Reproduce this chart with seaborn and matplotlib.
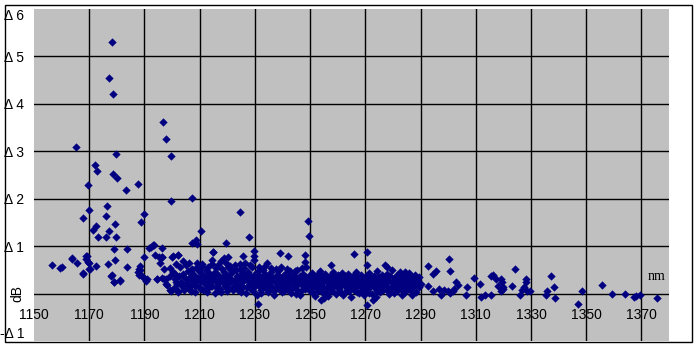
import matplotlib
matplotlib.use("Agg")
import matplotlib.pyplot as plt
from matplotlib.patches import Rectangle
import seaborn as sns
import pandas as pd

# ---- data (wavelength nm, loss dB) ----
wl_sparse = [1156.6, 1159.5, 1160.0, 1163.6, 1163.9, 1165.7, 1165.2, 1167.7, 1167.7, 1167.8, 1168.8, 1169.0,
             1169.3, 1169.5, 1169.6, 1169.9, 1170.0, 1170.0, 1170.2, 1171.4, 1172.0, 1172.4, 1172.4, 1172.8,
             1173.2, 1176.0, 1176.0, 1176.4, 1176.9, 1177.1, 1177.2, 1177.8, 1178.1, 1178.2, 1178.6, 1178.6,
             1178.9, 1178.9, 1179.0, 1179.2, 1179.4, 1179.6, 1179.6, 1179.9, 1181.1, 1181.2, 1183.5, 1183.7,
             1183.7, 1187.5, 1187.8, 1188.0, 1188.2, 1188.3, 1188.5, 1188.9, 1189.0, 1189.7, 1189.7, 1190.0,
             1190.5, 1191.0, 1191.8, 1192.3, 1193.1, 1193.5, 1193.7, 1194.4, 1194.7, 1195.2, 1195.6, 1196.2,
             1196.2, 1196.3, 1196.5, 1196.6, 1197.0, 1197.0, 1197.7, 1197.7, 1197.8, 1198.0, 1199.2, 1199.2,
             1199.2, 1199.5, 1199.8, 1199.8, 1199.9, 1200.4, 1200.9, 1201.6, 1202.2, 1202.2, 1202.2, 1204.0,
             1206.2, 1207.0, 1207.1, 1207.4, 1208.8, 1208.8, 1209.2, 1210.4, 1214.8, 1215.0, 1218.8, 1219.7,
             1220.2, 1224.7, 1225.7, 1228.0, 1229.8, 1229.8, 1229.8, 1231.3, 1234.5, 1239.2, 1242.1, 1248.1,
             1248.1, 1249.3, 1249.7, 1254.0, 1255.0, 1257.7, 1265.9, 1270.7, 1270.7, 1270.7, 1272.7, 1273.9,
             1277.1, 1277.9, 1283.3, 1284.4, 1286.8, 1288.6, 1289.6, 1289.6, 1290.2, 1292.7, 1292.8, 1294.4,
             1294.4, 1295.6, 1296.8, 1297.4, 1298.6, 1299.8, 1300.4, 1300.6, 1300.8, 1301.6, 1302.2, 1303.0,
             1303.4, 1306.5, 1306.8, 1309.5, 1311.4, 1311.9, 1313.3, 1315.5, 1315.5, 1316.1, 1317.5, 1318.2,
             1319.0, 1319.1, 1319.5, 1319.7, 1319.7, 1323.1, 1324.3, 1326.1, 1326.9, 1327.5, 1328.1, 1328.1,
             1328.5, 1329.6, 1335.4, 1335.9, 1337.2, 1338.4, 1338.6, 1347.0, 1348.6, 1355.6, 1359.5, 1364.0,
             1367.2, 1368.1, 1369.6, 1375.6]
db_sparse = [0.61, 0.54, 0.56, 0.74, 0.73, 0.65, 3.09, 1.60, 0.42, 0.43, 0.73, 0.79,
             0.80, 2.29, 0.67, 1.77, 0.64, 0.51, 0.52, 1.35, 2.71, 1.42, 0.59, 2.59,
             1.20, 1.63, 1.20, 1.85, 0.63, 4.55, 1.31, 0.37, 0.39, 5.30, 4.21, 2.52,
             0.94, 0.25, 0.25, 1.47, 0.70, 2.94, 1.20, 2.44, 0.28, 0.27, 2.18, 0.94,
             0.56, 2.31, 0.46, 0.52, 0.40, 0.49, 0.58, 1.51, 0.36, 1.68, 0.78, 0.33,
             0.27, 0.30, 0.97, 0.98, 1.03, 1.02, 0.81, 0.31, 0.30, 0.77, 0.64, 0.96,
             0.32, 0.77, 0.78, 3.62, 0.52, 0.30, 3.26, 0.31, 0.21, 0.18, 0.54, 0.36,
             0.08, 2.90, 1.95, 0.06, 0.77, 0.79, 0.42, 0.25, 0.82, 0.81, 0.03, 0.69,
             0.64, 0.50, 1.06, 2.01, 1.14, 0.53, 1.05, 1.32, 0.88, 0.87, 0.74, 1.06,
             0.78, 1.73, 0.79, 1.19, 0.89, 0.80, 0.71, -0.23, 0.64, 0.85, 0.79, 0.82,
             0.66, 1.54, 1.21, -0.13, -0.09, 0.60, 0.83, 0.87, 0.60, -0.25, -0.13, -0.08,
             0.61, 0.56, -0.02, 0.46, -0.03, 0.27, 0.34, 0.13, 0.21, 0.15, 0.58, 0.42,
             0.06, 0.47, 0.10, -0.04, 0.08, 0.06, 0.73, 0.47, 0.02, 0.06, 0.10, 0.24,
             0.19, -0.02, 0.13, 0.33, 0.21, -0.08, -0.02, -0.02, 0.36, 0.40, 0.30, 0.17,
             0.05, 0.30, 0.24, 0.10, 0.13, 0.17, 0.51, -0.04, 0.08, 0.13, 0.31, 0.24,
             0.06, 0.05, -0.04, 0.06, 0.38, 0.13, -0.09, -0.21, 0.05, 0.19, -0.01, 0.00,
             -0.08, -0.06, -0.02, -0.09]

wl_dense = [1200.5, 1200.8, 1201.2, 1201.5, 1201.9, 1202.3, 1202.6, 1203.0, 1203.3, 1203.7, 1204.1, 1204.4,
            1204.8, 1205.1, 1205.5, 1205.9, 1206.2, 1206.6, 1207.0, 1207.3, 1207.7, 1208.1, 1208.4, 1208.8,
            1209.1, 1209.5, 1209.9, 1210.2, 1210.6, 1211.0, 1211.3, 1211.7, 1212.1, 1212.4, 1212.8, 1213.2,
            1213.5, 1213.9, 1214.3, 1214.6, 1215.0, 1215.4, 1215.7, 1216.1, 1216.5, 1216.8, 1217.2, 1217.6,
            1217.9, 1218.3, 1218.7, 1219.0, 1219.4, 1219.8, 1220.1, 1220.5, 1220.9, 1221.2, 1221.6, 1222.0,
            1222.3, 1222.7, 1223.1, 1223.4, 1223.8, 1224.2, 1224.5, 1224.9, 1225.3, 1225.6, 1226.0, 1226.4,
            1226.7, 1227.1, 1227.5, 1227.8, 1228.2, 1228.6, 1228.9, 1229.3, 1229.7, 1230.0, 1230.4, 1230.8,
            1231.1, 1231.5, 1231.9, 1232.2, 1232.6, 1233.0, 1233.3, 1233.7, 1234.1, 1234.4, 1234.8, 1235.2,
            1235.5, 1235.9, 1236.3, 1236.6, 1237.0, 1237.4, 1237.7, 1238.1, 1238.5, 1238.8, 1239.2, 1239.6,
            1239.9, 1240.3, 1240.7, 1241.0, 1241.4, 1241.8, 1242.1, 1242.5, 1242.9, 1243.2, 1243.6, 1244.0,
            1244.3, 1244.7, 1245.1, 1245.4, 1245.8, 1246.2, 1246.5, 1246.9, 1247.3, 1247.6, 1248.0, 1248.4,
            1248.7, 1249.1, 1249.5, 1249.8, 1250.2, 1250.6, 1250.9, 1251.3, 1251.7, 1252.0, 1252.4, 1252.8,
            1253.1, 1253.5, 1253.9, 1254.2, 1254.6, 1255.0, 1255.3, 1255.7, 1256.1, 1256.4, 1256.8, 1257.2,
            1257.5, 1257.9, 1258.3, 1258.6, 1259.0, 1259.4, 1259.7, 1260.1, 1260.5, 1260.8, 1261.2, 1261.6,
            1261.9, 1262.3, 1262.7, 1263.0, 1263.4, 1263.8, 1264.1, 1264.5, 1264.9, 1265.2, 1265.6, 1266.0,
            1266.3, 1266.7, 1267.1, 1267.4, 1267.8, 1268.2, 1268.5, 1268.9, 1269.3, 1269.6, 1270.0, 1270.4,
            1270.7, 1271.1, 1271.5, 1271.8, 1272.2, 1272.6, 1272.9, 1273.3, 1273.7, 1274.0, 1274.4, 1274.8,
            1275.1, 1275.5, 1275.9, 1276.2, 1276.6, 1277.0, 1277.3, 1277.7, 1278.1, 1278.4, 1278.8, 1279.2,
            1279.5, 1279.9, 1280.3, 1280.6, 1281.0, 1281.4, 1281.7, 1282.1, 1282.5, 1282.8, 1283.2, 1283.6,
            1283.9, 1284.3, 1284.7, 1285.0, 1285.4, 1285.8, 1286.1, 1286.5, 1286.9, 1287.2, 1287.6, 1288.0,
            1288.3, 1288.7, 1289.1]
db_dense = [0.45, 0.12, 0.30, 0.62, 0.20, 0.05, 0.38, 0.55, 0.25, 0.15, 0.42, 0.08,
            0.33, 0.60, 0.22, 0.48, 0.10, 0.35, 0.18, 0.52, 0.28, 0.40, 0.04, 0.24,
            0.65, 0.32, 0.14, 0.46, 0.26, 0.58, 0.07, 0.36, 0.20, 0.50, 0.30, 0.12,
            0.44, 0.24, 0.62, 0.16, 0.38, 0.02, 0.28, 0.54, 0.20, 0.40, 0.10, 0.33,
            0.68, 0.25, 0.45, 0.15, 0.36, 0.05, 0.56, 0.22, 0.42, 0.30, 0.12, 0.48,
            0.26, 0.60, 0.18, 0.38, 0.08, 0.32, 0.52, 0.22, 0.44, 0.14, 0.34, 0.64,
            0.02, 0.28, 0.46, 0.18, 0.38, 0.10, 0.55, 0.26, 0.40, 0.15, 0.32, -0.02,
            0.48, 0.22, 0.36, 0.08, 0.28, 0.50, 0.18, 0.42, 0.12, 0.30, 0.04, 0.38,
            0.24, 0.46, 0.14, 0.33, -0.03, 0.26, 0.52, 0.20, 0.40, 0.10, 0.30, 0.56,
            0.16, 0.36, 0.06, 0.25, 0.44, 0.12, 0.34, 0.22, 0.48, 0.02, 0.28, 0.40,
            0.15, 0.32, 0.08, 0.50, 0.24, 0.36, -0.04, 0.18, 0.42, 0.28, 0.10, 0.34,
            0.55, 0.20, 0.38, 0.05, 0.26, 0.44, 0.14, 0.32, -0.06, 0.22, 0.40, 0.10,
            0.30, 0.48, 0.18, 0.36, 0.02, 0.26, 0.42, 0.12, 0.33, -0.05, 0.20, 0.38,
            0.08, 0.28, 0.46, 0.15, 0.34, 0.00, 0.24, 0.40, 0.10, 0.30, 0.18, 0.44,
            -0.03, 0.26, 0.36, 0.06, 0.22, 0.42, 0.14, 0.32, -0.08, 0.20, 0.38, 0.08,
            0.28, 0.46, 0.16, 0.34, 0.02, 0.24, 0.40, 0.12, 0.30, -0.04, 0.20, 0.36,
            0.08, 0.26, 0.44, 0.14, 0.32, 0.00, 0.22, 0.38, 0.10, 0.28, 0.48, 0.16,
            0.34, 0.04, 0.24, 0.40, 0.12, 0.30, 0.18, 0.42, 0.06, 0.26, 0.36, 0.14,
            0.50, 0.22, 0.02, 0.32, 0.18, 0.40, 0.10, 0.28, 0.46, 0.15, 0.34, 0.05,
            0.24, 0.38, 0.12, 0.30, 0.20, 0.44, 0.08, 0.26, 0.35, 0.14, 0.22, 0.40,
            0.04, 0.30, 0.18]

wl_core = [1205.3, 1206.0, 1206.8, 1207.5, 1208.2, 1209.0, 1209.7, 1210.4, 1211.2, 1211.9, 1212.6, 1213.3,
           1214.0, 1214.8, 1215.6, 1216.3, 1217.0, 1217.8, 1218.5, 1219.2, 1220.0, 1220.7, 1221.4, 1222.2,
           1222.9, 1223.6, 1224.4, 1225.1, 1225.8, 1226.6, 1227.3, 1228.0, 1228.8, 1229.5, 1230.2, 1231.0,
           1231.7, 1232.4, 1233.2, 1233.9, 1234.6, 1235.4, 1236.1, 1236.8, 1237.6, 1238.3, 1239.0, 1239.8,
           1240.5, 1241.2, 1242.0, 1242.7, 1243.4, 1244.2, 1244.9, 1245.6, 1246.4, 1247.1, 1247.8, 1248.6,
           1249.3, 1250.0, 1250.8, 1251.5, 1252.2, 1253.0, 1253.7, 1254.4, 1255.2, 1255.9, 1256.6, 1257.4,
           1258.1, 1258.8, 1259.6, 1260.3, 1261.0, 1261.8, 1262.5, 1263.2, 1264.0, 1264.7, 1265.4, 1266.2,
           1266.9, 1267.6, 1268.4, 1269.1, 1269.8, 1270.6, 1271.3, 1272.0, 1272.8, 1273.5, 1274.2, 1275.0,
           1275.7, 1276.4, 1277.2, 1277.9, 1278.6, 1279.4, 1280.1, 1280.8, 1281.6, 1282.3, 1283.0, 1283.8,
           1284.5, 1285.2,
           1210.8, 1212.9, 1214.5, 1216.6, 1218.0, 1219.5, 1221.0, 1223.0, 1224.6, 1226.2, 1228.4, 1231.4,
           1233.6, 1236.0, 1238.8, 1241.6, 1244.5, 1247.0]
db_core = [0.18, 0.30, 0.06, 0.40, 0.15, 0.28, 0.50, 0.10, 0.34, 0.22, 0.04, 0.38,
           0.16, 0.28, 0.46, 0.12, 0.24, 0.04, 0.34, 0.26, 0.12, 0.32, 0.50, 0.08,
           0.22, 0.30, 0.12, 0.04, 0.26, 0.40, 0.14, 0.30, 0.20, 0.06, 0.24, 0.36,
           0.14, 0.02, 0.26, 0.34, 0.20, 0.10, 0.28, 0.06, 0.36, 0.14, 0.24, 0.04,
           0.30, 0.18, 0.08, 0.36, 0.12, 0.26, 0.00, 0.20, 0.30, 0.08, 0.16, 0.26,
           0.12, 0.34, 0.04, 0.18, 0.28, 0.06, 0.24, 0.14, 0.32, 0.02, 0.26, 0.16,
           0.06, 0.22, 0.30, 0.14, 0.04, 0.24, 0.16, 0.30, 0.06, 0.22, 0.12, 0.34,
           0.04, 0.20, 0.28, 0.08, 0.16, 0.30, 0.02, 0.18, 0.24, 0.14, 0.06, 0.20,
           0.30, 0.08, 0.16, 0.24, 0.00, 0.12, 0.26, 0.16, 0.06, 0.20, 0.28, 0.14,
           0.04, 0.18,
           0.62, 0.56, 0.70, 0.60, 0.52, 0.64, 0.58, 0.50, 0.62, 0.54, 0.60, 0.56,
           0.58, 0.54, 0.50, 0.52, 0.48, 0.54]

x_ticks = [1150, 1170, 1190, 1210, 1230, 1250, 1270, 1290, 1310, 1330, 1350, 1370]
y_ticks = [-1, 0, 1, 2, 3, 4, 5, 6]
y_tick_labels = ["-\u0394 1", "dB", "\u0394 1", "\u0394 2", "\u0394 3", "\u0394 4", "\u0394 5", "\u0394 6"]

df = pd.DataFrame({"wl": wl_sparse + wl_dense + wl_core,
                   "db": db_sparse + db_dense + db_core})

W, H = 696, 349
fig = plt.figure(figsize=(W / 100, H / 100), dpi=100)
fig.patch.set_facecolor("white")
ax = fig.add_axes([34 / W, 1 - 341 / H, (669 - 34) / W, (341 - 9) / H])
ax.set_facecolor("#C0C0C0")

sns.scatterplot(data=df, x="wl", y="db", marker="D", color="#000080", s=18,
                linewidth=0, ax=ax, zorder=3, legend=False)

ax.set_xlim(1150, 1380)
ax.set_ylim(-1, 6)
for s in ax.spines.values():
    s.set_visible(False)

# grid lines
for xv in x_ticks[1:]:
    ax.axvline(xv, color="black", lw=1.0, zorder=1)
for yv in y_ticks[1:-1]:
    ax.axhline(yv, color="black", lw=1.0, zorder=1)

ax.set_xticks(x_ticks)
ax.set_xticklabels([str(v) for v in x_ticks], fontsize=10, family="Liberation Sans")
ax.tick_params(axis="x", length=0, pad=-24)
ax.set_yticks(y_ticks)
ax.set_yticklabels(y_tick_labels, fontsize=10, family="Liberation Sans")
ax.tick_params(axis="y", length=0, pad=7)
ylabels = ax.get_yticklabels()
ylabels[0].set_va("bottom")
ylabels[1].set_rotation(90)
ylabels[1].set_va("center")
ylabels[-1].set_va("top")

ax.set_xlabel("")
ax.set_ylabel("")
ax.text(0.994, 0.193, "nm", transform=ax.transAxes, ha="right", va="center",
        fontsize=10, family="Liberation Serif")

fig.patches.append(Rectangle((5 / W, 1 - 342 / H), 687 / W, 337 / H, transform=fig.transFigure,
                             fill=False, ec="black", lw=1.0))

fig.savefig("out.png", dpi=100)
